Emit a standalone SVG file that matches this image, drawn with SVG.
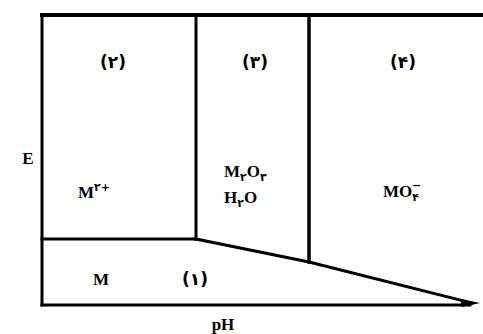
<svg xmlns="http://www.w3.org/2000/svg" width="483" height="334" viewBox="0 0 483 334">
<style>
.ln{stroke:#000;fill:none;stroke-linecap:square}
.t{font-family:'Liberation Serif','Times New Roman','DejaVu Serif',serif;font-weight:bold;font-size:17px;fill:#000}
.d{font-family:'DejaVu Sans',sans-serif;font-weight:bold;font-size:17px;fill:#000}
.s{font-size:11px}
</style>
<rect width="483" height="334" fill="#fff"/>
<g id="connectors">
<line class="ln" x1="42" y1="15" x2="483" y2="15" stroke-width="4"/>
<line class="ln" x1="42" y1="15" x2="42" y2="305" stroke-width="3"/>
<line class="ln" x1="42" y1="305" x2="470" y2="305" stroke-width="3"/>
<line class="ln" x1="196" y1="15" x2="196" y2="239" stroke-width="3"/>
<line class="ln" x1="309" y1="15" x2="309" y2="262" stroke-width="3.5"/>
<line class="ln" x1="42" y1="239" x2="196" y2="239" stroke-width="3"/>
<polyline class="ln" points="196,239 309,262 472,303" stroke-width="3"/>
<polygon points="460,299 480,303 462,307" fill="#000"/>
</g>
<g id="axis-E"><text class="t" x="28" y="164" text-anchor="middle">E</text></g>
<g id="axis-pH"><text class="t" x="223" y="330" text-anchor="middle" font-size="16">pH</text></g>
<g id="region-2">
<text class="d" x="113" y="68" text-anchor="middle">(۲)</text>
<text class="t" x="78" y="198">M<tspan class="d s" dy="-7">۲+</tspan></text>
</g>
<g id="region-3">
<text class="d" x="255" y="68" text-anchor="middle">(۳)</text>
<text class="t" x="224" y="177">M<tspan class="d s" dy="4">۲</tspan><tspan dy="-4">O</tspan><tspan class="d s" dy="4">۳</tspan></text>
<text class="t" x="224" y="203">H<tspan class="d s" dy="4">۲</tspan><tspan dy="-4">O</tspan></text>
</g>
<g id="region-4">
<text class="d" x="403" y="68" text-anchor="middle">(۴)</text>
<text class="t" x="383" y="197">MO<tspan class="d s" dy="4">۴</tspan><tspan class="d s" dx="-7" dy="-12">−</tspan></text>
</g>
<g id="region-1">
<text class="t" x="101" y="285" text-anchor="middle">M</text>
<text class="d" x="195" y="285" text-anchor="middle">(۱)</text>
</g>
</svg>
